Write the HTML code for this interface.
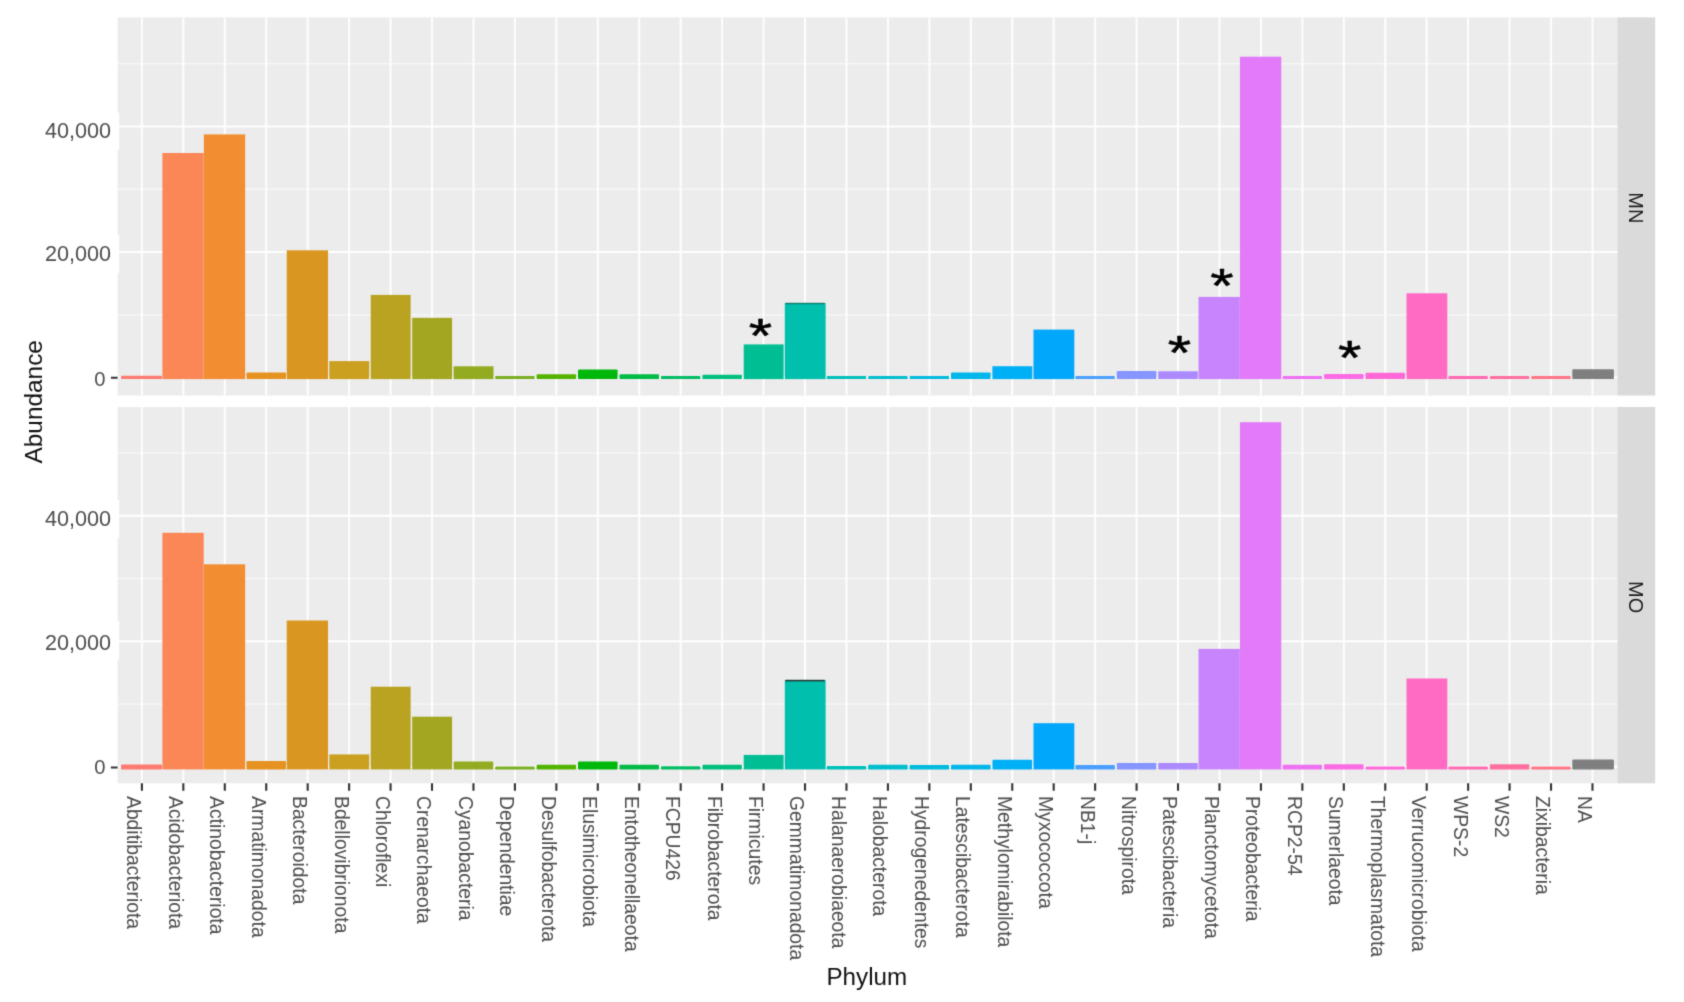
<!DOCTYPE html>
<html lang="en"><head><meta charset="utf-8"><title>Phylum abundance</title>
<style>html,body{margin:0;padding:0;background:#fff}svg{display:block}text{font-family:"Liberation Sans",sans-serif}</style></head><body>
<svg width="1684" height="1002" viewBox="0 0 1684 1002">
<defs><filter id="soft" x="0" y="0" width="1684" height="1002" filterUnits="userSpaceOnUse" color-interpolation-filters="sRGB"><feConvolveMatrix order="3" kernelMatrix="0.01960 0.10080 0.01960 0.10080 0.51840 0.10080 0.01960 0.10080 0.01960" edgeMode="duplicate" preserveAlpha="true"/></filter></defs>
<g filter="url(#soft)">
<rect x="0" y="0" width="1684" height="1002" fill="#FFFFFF"/>
<rect x="117.6" y="17.4" width="1499.80" height="378.10" fill="#ECECEC"/>
<rect x="1617.4" y="17.4" width="37.80" height="378.10" fill="#DADADA"/>
<path d="M117.6 314.82H1617.4M117.6 189.26H1617.4M117.6 63.70H1617.4" stroke="#F8F8F8" stroke-width="1.3" fill="none"/>
<path d="M117.6 377.60H1617.4M117.6 252.04H1617.4M117.6 126.48H1617.4M141.90 17.4V395.5M183.34 17.4V395.5M224.79 17.4V395.5M266.24 17.4V395.5M307.68 17.4V395.5M349.12 17.4V395.5M390.57 17.4V395.5M432.01 17.4V395.5M473.46 17.4V395.5M514.90 17.4V395.5M556.35 17.4V395.5M597.79 17.4V395.5M639.24 17.4V395.5M680.68 17.4V395.5M722.13 17.4V395.5M763.57 17.4V395.5M805.02 17.4V395.5M846.47 17.4V395.5M887.91 17.4V395.5M929.36 17.4V395.5M970.80 17.4V395.5M1012.25 17.4V395.5M1053.69 17.4V395.5M1095.13 17.4V395.5M1136.58 17.4V395.5M1178.03 17.4V395.5M1219.47 17.4V395.5M1260.92 17.4V395.5M1302.36 17.4V395.5M1343.81 17.4V395.5M1385.25 17.4V395.5M1426.70 17.4V395.5M1468.14 17.4V395.5M1509.59 17.4V395.5M1551.03 17.4V395.5M1592.48 17.4V395.5" stroke="#FEFEFE" stroke-width="2.0" fill="none"/>
<rect x="121.00" y="375.70" width="41.0" height="3.40" fill="#FD7A71" rx="1.2"/>
<rect x="162.39" y="153.00" width="41.3" height="226.10" fill="#FB8656"/>
<rect x="203.84" y="134.40" width="41.3" height="244.70" fill="#F28D31"/>
<rect x="246.44" y="372.50" width="39.6" height="6.60" fill="#E69221" rx="1.2"/>
<rect x="286.73" y="250.30" width="41.3" height="128.80" fill="#D99721"/>
<rect x="329.28" y="361.10" width="39.9" height="18.00" fill="#CBA021"/>
<rect x="370.72" y="294.90" width="39.9" height="84.20" fill="#B9A321"/>
<rect x="412.17" y="317.90" width="39.9" height="61.20" fill="#A2A621"/>
<rect x="453.61" y="366.30" width="39.9" height="12.80" fill="#93AB21"/>
<rect x="495.10" y="375.90" width="39.6" height="3.20" fill="#79AF21" rx="1.2"/>
<rect x="536.55" y="374.30" width="39.6" height="4.80" fill="#53B400" rx="1.2"/>
<rect x="578.00" y="369.50" width="39.6" height="9.60" fill="#00B70C" rx="1.2"/>
<rect x="619.44" y="374.30" width="39.6" height="4.80" fill="#00BB45" rx="1.2"/>
<rect x="660.88" y="376.00" width="39.6" height="3.10" fill="#00BD64" rx="1.2"/>
<rect x="702.33" y="374.70" width="39.6" height="4.40" fill="#00BF7D" rx="1.2"/>
<rect x="743.72" y="344.40" width="39.9" height="34.70" fill="#00BE94"/>
<rect x="784.82" y="303.10" width="40.8" height="76.00" fill="#00BFAD"/>
<rect x="826.67" y="376.10" width="39.6" height="3.00" fill="#00C0BB" rx="1.2"/>
<rect x="868.11" y="376.10" width="39.6" height="3.00" fill="#00BECD" rx="1.2"/>
<rect x="909.56" y="376.10" width="39.6" height="3.00" fill="#00BBDD" rx="1.2"/>
<rect x="951.00" y="372.60" width="39.6" height="6.50" fill="#00B6EB" rx="1.2"/>
<rect x="992.39" y="366.20" width="39.9" height="12.90" fill="#00B0F6"/>
<rect x="1033.49" y="329.60" width="40.8" height="49.50" fill="#00A7FA"/>
<rect x="1075.34" y="376.00" width="39.6" height="3.10" fill="#4B9FFF" rx="1.2"/>
<rect x="1116.78" y="371.10" width="39.6" height="8.00" fill="#8695FF" rx="1.2"/>
<rect x="1158.23" y="371.20" width="39.6" height="7.90" fill="#AB8AFF" rx="1.2"/>
<rect x="1198.52" y="296.90" width="41.3" height="82.20" fill="#C784FD"/>
<rect x="1239.97" y="56.70" width="41.3" height="322.40" fill="#E27AF9"/>
<rect x="1282.56" y="375.90" width="39.6" height="3.20" fill="#EF71F3" rx="1.2"/>
<rect x="1324.01" y="374.10" width="39.6" height="5.00" fill="#FC6BE6" rx="1.2"/>
<rect x="1365.45" y="372.70" width="39.6" height="6.40" fill="#FF67D7" rx="1.2"/>
<rect x="1406.50" y="293.30" width="40.8" height="85.80" fill="#FF6AC3"/>
<rect x="1448.34" y="375.90" width="39.6" height="3.20" fill="#FF6AB2" rx="1.2"/>
<rect x="1489.79" y="375.90" width="39.6" height="3.20" fill="#FF6F9D" rx="1.2"/>
<rect x="1531.23" y="375.90" width="39.6" height="3.20" fill="#FF7586" rx="1.2"/>
<rect x="1572.30" y="369.30" width="41.6" height="9.80" fill="#7F7F7F" rx="1.2"/>
<rect x="117.6" y="407.0" width="1499.80" height="376.30" fill="#ECECEC"/>
<rect x="1617.4" y="407.0" width="37.80" height="376.30" fill="#DADADA"/>
<path d="M117.6 704.05H1617.4M117.6 578.55H1617.4M117.6 453.05H1617.4" stroke="#F8F8F8" stroke-width="1.3" fill="none"/>
<path d="M117.6 766.80H1617.4M117.6 641.30H1617.4M117.6 515.80H1617.4M141.90 407.0V783.3M183.34 407.0V783.3M224.79 407.0V783.3M266.24 407.0V783.3M307.68 407.0V783.3M349.12 407.0V783.3M390.57 407.0V783.3M432.01 407.0V783.3M473.46 407.0V783.3M514.90 407.0V783.3M556.35 407.0V783.3M597.79 407.0V783.3M639.24 407.0V783.3M680.68 407.0V783.3M722.13 407.0V783.3M763.57 407.0V783.3M805.02 407.0V783.3M846.47 407.0V783.3M887.91 407.0V783.3M929.36 407.0V783.3M970.80 407.0V783.3M1012.25 407.0V783.3M1053.69 407.0V783.3M1095.13 407.0V783.3M1136.58 407.0V783.3M1178.03 407.0V783.3M1219.47 407.0V783.3M1260.92 407.0V783.3M1302.36 407.0V783.3M1343.81 407.0V783.3M1385.25 407.0V783.3M1426.70 407.0V783.3M1468.14 407.0V783.3M1509.59 407.0V783.3M1551.03 407.0V783.3M1592.48 407.0V783.3" stroke="#FEFEFE" stroke-width="2.0" fill="none"/>
<rect x="121.00" y="764.60" width="41.0" height="4.80" fill="#FD7A71" rx="1.2"/>
<rect x="162.39" y="532.80" width="41.3" height="236.60" fill="#FB8656"/>
<rect x="203.84" y="564.30" width="41.3" height="205.10" fill="#F28D31"/>
<rect x="246.44" y="761.00" width="39.6" height="8.40" fill="#E69221" rx="1.2"/>
<rect x="286.73" y="620.50" width="41.3" height="148.90" fill="#D99721"/>
<rect x="329.28" y="754.40" width="39.9" height="15.00" fill="#CBA021"/>
<rect x="370.72" y="686.70" width="39.9" height="82.70" fill="#B9A321"/>
<rect x="412.17" y="716.70" width="39.9" height="52.70" fill="#A2A621"/>
<rect x="453.66" y="761.50" width="39.6" height="7.90" fill="#93AB21" rx="1.2"/>
<rect x="495.10" y="766.40" width="39.6" height="3.00" fill="#79AF21" rx="1.2"/>
<rect x="536.55" y="764.80" width="39.6" height="4.60" fill="#53B400" rx="1.2"/>
<rect x="578.00" y="761.50" width="39.6" height="7.90" fill="#00B70C" rx="1.2"/>
<rect x="619.44" y="764.80" width="39.6" height="4.60" fill="#00BB45" rx="1.2"/>
<rect x="660.88" y="766.30" width="39.6" height="3.10" fill="#00BD64" rx="1.2"/>
<rect x="702.33" y="764.70" width="39.6" height="4.70" fill="#00BF7D" rx="1.2"/>
<rect x="743.72" y="754.90" width="39.9" height="14.50" fill="#00BE94"/>
<rect x="784.82" y="680.10" width="40.8" height="89.30" fill="#00BFAD"/>
<rect x="826.67" y="766.10" width="39.6" height="3.30" fill="#00C0BB" rx="1.2"/>
<rect x="868.11" y="764.70" width="39.6" height="4.70" fill="#00BECD" rx="1.2"/>
<rect x="909.56" y="765.00" width="39.6" height="4.40" fill="#00BBDD" rx="1.2"/>
<rect x="951.00" y="764.70" width="39.6" height="4.70" fill="#00B6EB" rx="1.2"/>
<rect x="992.45" y="759.70" width="39.6" height="9.70" fill="#00B0F6" rx="1.2"/>
<rect x="1033.49" y="723.20" width="40.8" height="46.20" fill="#00A7FA"/>
<rect x="1075.34" y="765.10" width="39.6" height="4.30" fill="#4B9FFF" rx="1.2"/>
<rect x="1116.78" y="762.90" width="39.6" height="6.50" fill="#8695FF" rx="1.2"/>
<rect x="1158.23" y="762.90" width="39.6" height="6.50" fill="#AB8AFF" rx="1.2"/>
<rect x="1198.52" y="648.90" width="41.3" height="120.50" fill="#C784FD"/>
<rect x="1239.97" y="422.20" width="41.3" height="347.20" fill="#E27AF9"/>
<rect x="1282.56" y="764.80" width="39.6" height="4.60" fill="#EF71F3" rx="1.2"/>
<rect x="1324.01" y="764.30" width="39.6" height="5.10" fill="#FC6BE6" rx="1.2"/>
<rect x="1365.45" y="766.40" width="39.6" height="3.00" fill="#FF67D7" rx="1.2"/>
<rect x="1406.50" y="678.50" width="40.8" height="90.90" fill="#FF6AC3"/>
<rect x="1448.34" y="766.40" width="39.6" height="3.00" fill="#FF6AB2" rx="1.2"/>
<rect x="1489.79" y="764.30" width="39.6" height="5.10" fill="#FF6F9D" rx="1.2"/>
<rect x="1531.23" y="766.40" width="39.6" height="3.00" fill="#FF7586" rx="1.2"/>
<rect x="1572.30" y="759.50" width="41.6" height="9.90" fill="#7F7F7F" rx="1.2"/>
<rect x="785.37" y="302.8" width="39.3" height="1.4" fill="#0A7F6B"/>
<rect x="785.37" y="679.8" width="39.3" height="1.6" fill="#1E3B33"/>
<path d="M141.90 783.3V790.70M183.34 783.3V790.70M224.79 783.3V790.70M266.24 783.3V790.70M307.68 783.3V790.70M349.12 783.3V790.70M390.57 783.3V790.70M432.01 783.3V790.70M473.46 783.3V790.70M514.90 783.3V790.70M556.35 783.3V790.70M597.79 783.3V790.70M639.24 783.3V790.70M680.68 783.3V790.70M722.13 783.3V790.70M763.57 783.3V790.70M805.02 783.3V790.70M846.47 783.3V790.70M887.91 783.3V790.70M929.36 783.3V790.70M970.80 783.3V790.70M1012.25 783.3V790.70M1053.69 783.3V790.70M1095.13 783.3V790.70M1136.58 783.3V790.70M1178.03 783.3V790.70M1219.47 783.3V790.70M1260.92 783.3V790.70M1302.36 783.3V790.70M1343.81 783.3V790.70M1385.25 783.3V790.70M1426.70 783.3V790.70M1468.14 783.3V790.70M1509.59 783.3V790.70M1551.03 783.3V790.70M1592.48 783.3V790.70M110.9 377.7H117.6M110.9 767.5H117.6" stroke="#333333" stroke-width="2.1" fill="none"/>
<rect x="40" y="112.6" width="79.2" height="37.1" fill="#FFFFFF"/>
<rect x="40" y="235.2" width="79.2" height="37.7" fill="#FFFFFF"/>
<rect x="40" y="499.9" width="79.2" height="38.0" fill="#FFFFFF"/>
<rect x="40" y="621.0" width="79.2" height="38.6" fill="#FFFFFF"/>
<text x="111.0" y="138.1" font-size="21.6" fill="#4D4D4D" text-anchor="end">40,000</text>
<text x="111.0" y="261.4" font-size="21.6" fill="#4D4D4D" text-anchor="end">20,000</text>
<text x="105.5" y="385.7" font-size="20.2" fill="#4D4D4D" text-anchor="end">0</text>
<text x="111.0" y="526.4" font-size="21.6" fill="#4D4D4D" text-anchor="end">40,000</text>
<text x="111.0" y="649.6" font-size="21.6" fill="#4D4D4D" text-anchor="end">20,000</text>
<text x="105.5" y="774.3" font-size="20.2" fill="#4D4D4D" text-anchor="end">0</text>
<text transform="translate(127.30 796.0) rotate(90) scale(0.929 1)" font-size="20.8" fill="#4D4D4D">Abditibacteriota</text>
<text transform="translate(168.75 796.0) rotate(90) scale(0.929 1)" font-size="20.8" fill="#4D4D4D">Acidobacteriota</text>
<text transform="translate(210.19 796.0) rotate(90) scale(0.929 1)" font-size="20.8" fill="#4D4D4D">Actinobacteriota</text>
<text transform="translate(251.64 796.0) rotate(90) scale(0.929 1)" font-size="20.8" fill="#4D4D4D">Armatimonadota</text>
<text transform="translate(293.08 796.0) rotate(90) scale(0.929 1)" font-size="20.8" fill="#4D4D4D">Bacteroidota</text>
<text transform="translate(334.52 796.0) rotate(90) scale(0.929 1)" font-size="20.8" fill="#4D4D4D">Bdellovibrionota</text>
<text transform="translate(375.97 796.0) rotate(90) scale(0.929 1)" font-size="20.8" fill="#4D4D4D">Chloroflexi</text>
<text transform="translate(417.41 796.0) rotate(90) scale(0.929 1)" font-size="20.8" fill="#4D4D4D">Crenarchaeota</text>
<text transform="translate(458.86 796.0) rotate(90) scale(0.929 1)" font-size="20.8" fill="#4D4D4D">Cyanobacteria</text>
<text transform="translate(500.30 796.0) rotate(90) scale(0.929 1)" font-size="20.8" fill="#4D4D4D">Dependentiae</text>
<text transform="translate(541.75 796.0) rotate(90) scale(0.929 1)" font-size="20.8" fill="#4D4D4D">Desulfobacterota</text>
<text transform="translate(583.19 796.0) rotate(90) scale(0.929 1)" font-size="20.8" fill="#4D4D4D">Elusimicrobiota</text>
<text transform="translate(624.64 796.0) rotate(90) scale(0.929 1)" font-size="20.8" fill="#4D4D4D">Entotheonellaeota</text>
<text transform="translate(666.08 796.0) rotate(90) scale(0.929 1)" font-size="20.8" fill="#4D4D4D">FCPU426</text>
<text transform="translate(707.53 796.0) rotate(90) scale(0.929 1)" font-size="20.8" fill="#4D4D4D">Fibrobacterota</text>
<text transform="translate(748.97 796.0) rotate(90) scale(0.929 1)" font-size="20.8" fill="#4D4D4D">Firmicutes</text>
<text transform="translate(790.42 796.0) rotate(90) scale(0.929 1)" font-size="20.8" fill="#4D4D4D">Gemmatimonadota</text>
<text transform="translate(831.87 796.0) rotate(90) scale(0.929 1)" font-size="20.8" fill="#4D4D4D">Halanaerobiaeota</text>
<text transform="translate(873.31 796.0) rotate(90) scale(0.929 1)" font-size="20.8" fill="#4D4D4D">Halobacterota</text>
<text transform="translate(914.75 796.0) rotate(90) scale(0.929 1)" font-size="20.8" fill="#4D4D4D">Hydrogenedentes</text>
<text transform="translate(956.20 796.0) rotate(90) scale(0.929 1)" font-size="20.8" fill="#4D4D4D">Latescibacterota</text>
<text transform="translate(997.64 796.0) rotate(90) scale(0.929 1)" font-size="20.8" fill="#4D4D4D">Methylomirabilota</text>
<text transform="translate(1039.09 796.0) rotate(90) scale(0.929 1)" font-size="20.8" fill="#4D4D4D">Myxococcota</text>
<text transform="translate(1080.54 796.0) rotate(90) scale(0.929 1)" font-size="20.8" fill="#4D4D4D">NB1-j</text>
<text transform="translate(1121.98 796.0) rotate(90) scale(0.929 1)" font-size="20.8" fill="#4D4D4D">Nitrospirota</text>
<text transform="translate(1163.43 796.0) rotate(90) scale(0.929 1)" font-size="20.8" fill="#4D4D4D">Patescibacteria</text>
<text transform="translate(1204.87 796.0) rotate(90) scale(0.929 1)" font-size="20.8" fill="#4D4D4D">Planctomycetota</text>
<text transform="translate(1246.32 796.0) rotate(90) scale(0.929 1)" font-size="20.8" fill="#4D4D4D">Proteobacteria</text>
<text transform="translate(1287.76 796.0) rotate(90) scale(0.929 1)" font-size="20.8" fill="#4D4D4D">RCP2-54</text>
<text transform="translate(1329.21 796.0) rotate(90) scale(0.929 1)" font-size="20.8" fill="#4D4D4D">Sumerlaeota</text>
<text transform="translate(1370.65 796.0) rotate(90) scale(0.929 1)" font-size="20.8" fill="#4D4D4D">Thermoplasmatota</text>
<text transform="translate(1412.10 796.0) rotate(90) scale(0.929 1)" font-size="20.8" fill="#4D4D4D">Verrucomicrobiota</text>
<text transform="translate(1453.54 796.0) rotate(90) scale(0.929 1)" font-size="20.8" fill="#4D4D4D">WPS-2</text>
<text transform="translate(1494.99 796.0) rotate(90) scale(0.929 1)" font-size="20.8" fill="#4D4D4D">WS2</text>
<text transform="translate(1536.43 796.0) rotate(90) scale(0.929 1)" font-size="20.8" fill="#4D4D4D">Zixibacteria</text>
<text transform="translate(1577.88 796.0) rotate(90) scale(0.929 1)" font-size="20.8" fill="#4D4D4D">NA</text>
<text transform="translate(1629 207.8) rotate(90)" font-size="20" fill="#1A1A1A" text-anchor="middle">MN</text>
<text transform="translate(1628.8 597.1) rotate(90)" font-size="20" fill="#1A1A1A" text-anchor="middle">MO</text>
<text x="866.8" y="984.6" font-size="24.2" fill="#111111" text-anchor="middle">Phylum</text>
<text transform="translate(41.6 401.8) rotate(-90)" font-size="24.4" fill="#111111" text-anchor="middle">Abundance</text>
<text transform="translate(760.4 351.81) scale(1.2 0.98)" font-size="50" fill="#000000" stroke="#000000" stroke-width="0.5" stroke-linejoin="round" text-anchor="middle">*</text>
<text transform="translate(1179.5 368.91) scale(1.2 0.98)" font-size="50" fill="#000000" stroke="#000000" stroke-width="0.5" stroke-linejoin="round" text-anchor="middle">*</text>
<text transform="translate(1221.9 302.31) scale(1.2 0.98)" font-size="50" fill="#000000" stroke="#000000" stroke-width="0.5" stroke-linejoin="round" text-anchor="middle">*</text>
<text transform="translate(1349.7 373.81) scale(1.2 0.98)" font-size="50" fill="#000000" stroke="#000000" stroke-width="0.5" stroke-linejoin="round" text-anchor="middle">*</text>
</g></svg></body></html>
